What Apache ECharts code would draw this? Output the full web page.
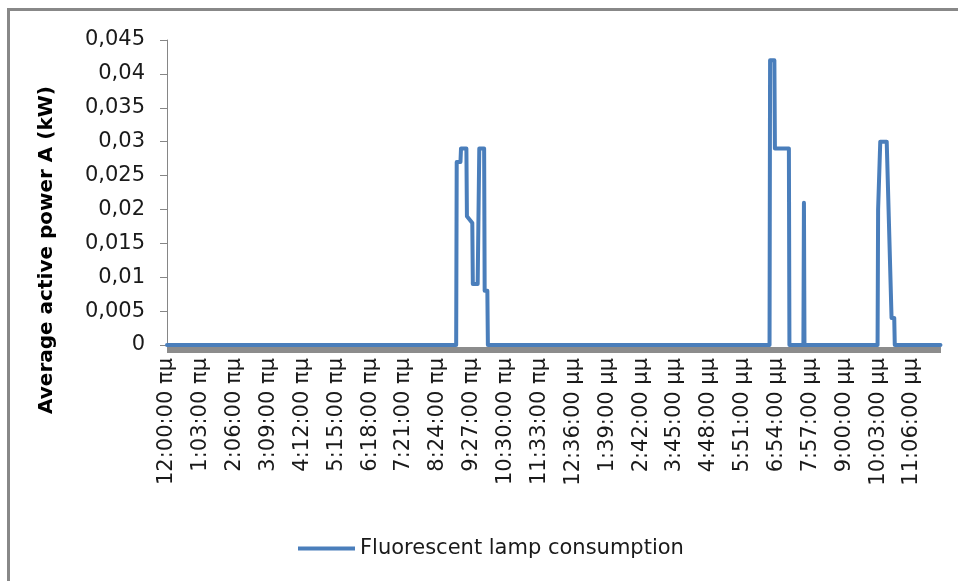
<!DOCTYPE html>
<html>
<head>
<meta charset="utf-8">
<script src="https://cdn.jsdelivr.net/npm/echarts@6/dist/echarts.min.js"></script>
<style>
html,body{margin:0;padding:0;background:#fff;}
#chart{width:958px;height:581px;}
</style>
</head>
<body>
<div id="chart"></div>
<script>
// Time of day in minutes since midnight where the signal changes
const minutes = [0, 538, 539, 546, 547, 557, 558, 568, 569, 578, 581, 590, 591, 596, 597,
                 1121, 1122, 1130, 1131, 1157, 1158, 1184, 1185, 1186,
                 1322, 1323, 1327, 1339, 1348, 1353, 1354, 1439];
// Average active power (kW) at those minutes
const power = [0, 0, 0.027, 0.027, 0.029, 0.029, 0.019, 0.018, 0.009, 0.009, 0.029, 0.029, 0.008, 0.008, 0,
               0, 0.042, 0.042, 0.029, 0.029, 0, 0, 0.021, 0,
               0, 0.020, 0.030, 0.030, 0.004, 0.004, 0, 0];
// X tick labels, one every 63 minutes
const tickLabels = ['12:00:00 πμ','1:03:00 πμ','2:06:00 πμ','3:09:00 πμ','4:12:00 πμ','5:15:00 πμ',
  '6:18:00 πμ','7:21:00 πμ','8:24:00 πμ','9:27:00 πμ','10:30:00 πμ','11:33:00 πμ','12:36:00 μμ',
  '1:39:00 μμ','2:42:00 μμ','3:45:00 μμ','4:48:00 μμ','5:51:00 μμ','6:54:00 μμ','7:57:00 μμ',
  '9:00:00 μμ','10:03:00 μμ','11:06:00 μμ'];
const tickStep = 63;
const seriesName = 'Fluorescent lamp consumption';
const yTitle = 'Average active power A (kW)';

const data = minutes.map((m, i) => [m, power[i]]);
const FONT = 'DejaVu Sans';

const chart = echarts.init(document.getElementById('chart'), null, {renderer: 'canvas'});
chart.setOption({
  animation: false,
  backgroundColor: '#ffffff',
  grid: {left: 167, right: 17, top: 40, bottom: 236, containLabel: false},
  xAxis: {
    type: 'value', min: 0, max: 1440, interval: tickStep,
    offset: 5,
    axisLine: {show: true, onZero: false, lineStyle: {color: '#8c8c8c', width: 6, cap: 'butt'}},
    axisTick: {show: false},
    splitLine: {show: false},
    axisLabel: {
      rotate: 90, margin: 8, showMaxLabel: false,
      fontFamily: FONT, fontSize: 21, color: '#1a1a1a',
      formatter: v => (v % tickStep === 0 && tickLabels[v / tickStep] !== undefined) ? tickLabels[v / tickStep] : ''
    }
  },
  yAxis: {
    type: 'value', min: 0, max: 0.045, interval: 0.005,
    axisLine: {show: true, lineStyle: {color: '#868686', width: 1}},
    axisTick: {show: true, length: 7, lineStyle: {color: '#868686'}},
    splitLine: {show: false},
    axisLabel: {
      margin: 22, fontFamily: FONT, fontSize: 21, color: '#1a1a1a',
      formatter: v => String(+v.toFixed(3)).replace('.', ',')
    }
  },
  legend: {
    data: [seriesName], left: 293, top: 533,
    itemWidth: 57, itemHeight: 4, icon: 'rect',
    textStyle: {fontFamily: FONT, fontSize: 21, color: '#1a1a1a'}
  },
  graphic: [
    {type: 'rect', shape: {x: 8.5, y: 9.5, width: 1200, height: 1200},
     style: {fill: 'none', stroke: '#888888', lineWidth: 3}, silent: true},
    {type: 'text', x: 47, y: 250, rotation: Math.PI / 2,
     style: {text: yTitle, fontFamily: FONT, fontWeight: 'bold', fontSize: 20,
             fill: '#000', align: 'center', verticalAlign: 'middle'}}
  ],
  series: [{
    name: seriesName, type: 'line', data: data,
    showSymbol: false, symbol: 'none',
    lineStyle: {color: '#4a7ebb', width: 4, cap: 'round', join: 'round'},
    itemStyle: {color: '#4a7ebb'},
    z: 5
  }]
});
</script>
</body>
</html>
